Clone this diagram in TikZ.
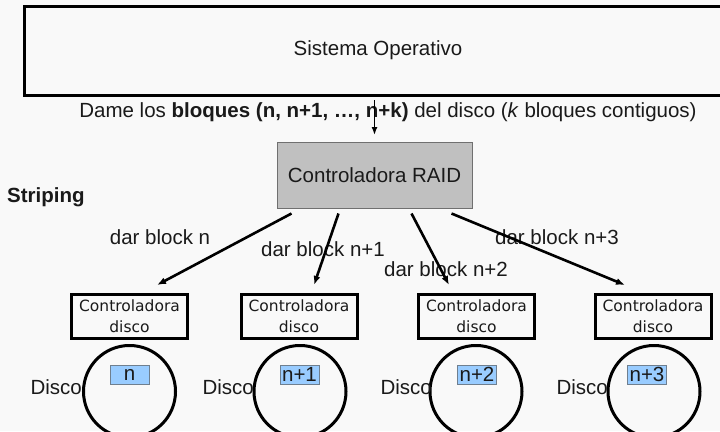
\documentclass[tikz,border=0pt]{standalone}
\usepackage{fontspec}
\setmainfont{Liberation Sans}
\newfontfamily\dejavu{DejaVu Sans}
\usetikzlibrary{arrows.meta}
\definecolor{bg}{HTML}{F9F9F9}
\definecolor{raidfill}{HTML}{C0C0C0}
\definecolor{raidline}{HTML}{707070}
\definecolor{tagfill}{HTML}{99CCFF}
\definecolor{tagline}{HTML}{6F7F8F}
\definecolor{ink}{HTML}{1A1A1A}
\tikzset{
  txt/.style={inner sep=0pt, text=ink, font=\fontsize{20.5}{24}\selectfont},
  sobox/.style={draw=black, line width=3pt, inner sep=0pt},
  raidbox/.style={draw=raidline, fill=raidfill, line width=1pt, inner sep=0pt,
    minimum width=195, minimum height=66},
  ctrlbox/.style={draw=black, line width=3pt, inner sep=0pt, align=center,
    minimum width=116, minimum height=44, text=ink,
    font=\dejavu\fontsize{15.5}{21}\selectfont},
  disk/.style={draw=black, line width=3pt, circle, inner sep=0pt, minimum size=92},
  tagbox/.style={draw=tagline, fill=tagfill, line width=0.8pt, inner sep=0pt,
    minimum width=39, minimum height=19, text=ink,
    font=\fontsize{20.5}{24}\selectfont},
  bigarrow/.style={-{Latex[length=9pt,width=7pt]}, line width=2.6pt, black},
  thinarrow/.style={-{Latex[length=8pt,width=6pt]}, line width=1.5pt, black},
}
\begin{document}
\begin{tikzpicture}[x=1pt, y=-1pt]
  % page frame
  \fill[bg] (0,0) rectangle (720,431);
  \useasboundingbox (0,0) rectangle (720,431);
  \clip (0,0) rectangle (720,431);

  % operating system
  \node[sobox, minimum width=707, minimum height=89] (so) at (378,51) {};
  \node[txt] (sotext) at (378,50) {Sistema Operativo};

  % request line
  \node[txt] (req) at (388,112)
    {Dame los \textbf{bloques (n, n+1, \dots, n+k)} del disco (\textit{k} bloques contiguos)};

  % RAID controller
  \node[raidbox, txt, inner sep=0pt] (raid) at (374.5,175) {Controladora RAID};
  \node[txt, font=\bfseries\fontsize{20.5}{24}\selectfont, anchor=west] (strip) at (7,197) {Striping};

  \draw[thinarrow, shorten <=3pt, shorten >=6.5pt] (so.south -| raid.north) -- (raid.north);

  % disk controllers
  \node[ctrlbox] (c1) at (129.5,316.5) {Controladora\\disco};
  \node[ctrlbox] (c2) at (299,316.5) {Controladora\\disco};
  \node[ctrlbox] (c3) at (476.5,316.5) {Controladora\\disco};
  \node[ctrlbox] (c4) at (653,316.5) {Controladora\\disco};

  % disks
  \node[disk] (d1) at (129.5,391.5) {};
  \node[disk] (d2) at (300,391.5) {};
  \node[disk] (d3) at (476,391.5) {};
  \node[disk] (d4) at (654,391.5) {};

  \node[txt, anchor=east] (l1) at (82,387) {Disco};
  \node[txt, anchor=east] (l2) at (254,387) {Disco};
  \node[txt, anchor=east] (l3) at (432,387) {Disco};
  \node[txt, anchor=east] (l4) at (608,387) {Disco};

  \node[tagbox] (t1) at (129.5,374.5) {n};
  \node[tagbox] (t2) at (299.5,374.5) {n+1};
  \node[tagbox] (t3) at (477,374.5) {n+2};
  \node[tagbox] (t4) at (647,374.5) {n+3};

  % block requests
  \node[txt] (b1) at (160,237) {dar block n};
  \node[txt] (b2) at (323,249) {dar block n+1};
  \node[txt] (b3) at (446,269) {dar block n+2};
  \node[txt] (b4) at (557,237) {dar block n+3};

  \draw[bigarrow] ([xshift=15pt, yshift=-5pt]raid.south west) -- ([xshift=27.5pt, yshift=8pt]c1.north);
  \draw[bigarrow] ([xshift=62pt, yshift=-5pt]raid.south west) -- ([xshift=15pt, yshift=8pt]c2.north);
  \draw[bigarrow] ([xshift=-61pt, yshift=-5pt]raid.south east) -- ([xshift=-27.5pt, yshift=8pt]c3.north);
  \draw[bigarrow] ([xshift=-21pt, yshift=-5pt]raid.south east) -- ([xshift=-28pt, yshift=8pt]c4.north);
\end{tikzpicture}
\end{document}
